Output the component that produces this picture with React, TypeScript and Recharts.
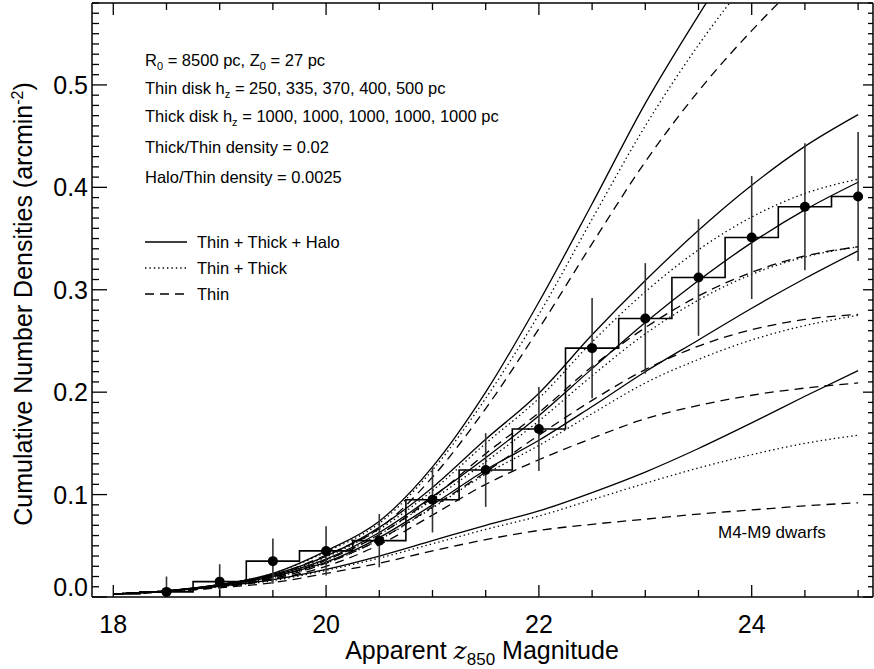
import { ComposedChart, Line, Scatter, ErrorBar, XAxis, YAxis } from "recharts";

const FONT = '"Liberation Sans", Arial, Helvetica, sans-serif';

// model grid (apparent z850 magnitude)
const mags = [18, 18.5, 19, 19.5, 20, 20.5, 21, 21.5, 22, 22.5, 23, 23.5, 24, 24.5, 25];

// thin disk hz = 500 pc
const hz500Full = [0.003, 0.006, 0.012, 0.023, 0.045, 0.074, 0.127, 0.2, 0.288, 0.384, 0.482, 0.568, 0.648, 0.72, 0.79];
const hz500Disks = [0.003, 0.006, 0.012, 0.023, 0.044, 0.072, 0.124, 0.194, 0.276, 0.369, 0.46, 0.539, 0.607, 0.666, 0.716];
const hz500Thin = [0.003, 0.0055, 0.011, 0.021, 0.041, 0.067, 0.117, 0.184, 0.262, 0.345, 0.425, 0.494, 0.553, 0.605, 0.65];

// thin disk hz = 400 pc
const hz400Full = [0.003, 0.006, 0.012, 0.022, 0.04, 0.068, 0.107, 0.154, 0.199, 0.256, 0.309, 0.358, 0.402, 0.44, 0.471];
const hz400Disks = [0.003, 0.006, 0.0115, 0.021, 0.039, 0.066, 0.104, 0.15, 0.194, 0.249, 0.298, 0.339, 0.371, 0.394, 0.408];
const hz400Thin = [0.003, 0.0055, 0.0105, 0.019, 0.036, 0.061, 0.097, 0.14, 0.18, 0.225, 0.263, 0.294, 0.317, 0.333, 0.342];

// thin disk hz = 370 pc
const hz370Full = [0.003, 0.006, 0.012, 0.021, 0.037, 0.063, 0.098, 0.136, 0.177, 0.223, 0.268, 0.309, 0.346, 0.378, 0.405];
const hz370Disks = [0.003, 0.006, 0.0115, 0.02, 0.036, 0.061, 0.095, 0.132, 0.172, 0.216, 0.257, 0.29, 0.315, 0.332, 0.342];
const hz370Thin = [0.003, 0.0055, 0.0105, 0.018, 0.033, 0.056, 0.088, 0.122, 0.158, 0.192, 0.222, 0.245, 0.261, 0.271, 0.276];

// thin disk hz = 335 pc
const hz335Full = [0.003, 0.006, 0.011, 0.02, 0.034, 0.058, 0.09, 0.124, 0.153, 0.186, 0.22, 0.251, 0.282, 0.311, 0.338];
const hz335Disks = [0.003, 0.006, 0.0105, 0.019, 0.033, 0.056, 0.087, 0.12, 0.148, 0.179, 0.209, 0.232, 0.251, 0.265, 0.275];
const hz335Thin = [0.003, 0.0055, 0.0095, 0.017, 0.03, 0.051, 0.08, 0.11, 0.134, 0.155, 0.174, 0.187, 0.197, 0.204, 0.209];

// thin disk hz = 250 pc
const hz250Full = [0.003, 0.0055, 0.0105, 0.017, 0.027, 0.04, 0.055, 0.07, 0.084, 0.102, 0.122, 0.145, 0.17, 0.196, 0.221];
const hz250Disks = [0.003, 0.0055, 0.01, 0.016, 0.026, 0.038, 0.052, 0.066, 0.079, 0.095, 0.111, 0.126, 0.139, 0.15, 0.158];
const hz250Thin = [0.003, 0.005, 0.009, 0.014, 0.023, 0.033, 0.045, 0.056, 0.065, 0.071, 0.076, 0.081, 0.085, 0.089, 0.092];

// observed counts, M4-M9 dwarfs
const obsMags = [18.5, 19, 19.5, 20, 20.5, 21, 21.5, 22, 22.5, 23, 23.5, 24, 24.5, 25];
const obsDensity = [0.005, 0.015, 0.035, 0.045, 0.055, 0.095, 0.124, 0.164, 0.243, 0.272, 0.312, 0.351, 0.381, 0.391];
const obsError = [0.015, 0.017, 0.022, 0.024, 0.026, 0.032, 0.036, 0.041, 0.049, 0.054, 0.057, 0.06, 0.062, 0.063];
const firstBinMag = 18;
const firstBinDensity = 0.003;
const binHalf = 0.25;

// axes
const xDomain = [17.8, 25.14];
const yDomain = [0, 0.58];
const xTicks = [18, 18.5, 19, 19.5, 20, 20.5, 21, 21.5, 22, 22.5, 23, 23.5, 24, 24.5, 25];
const xMajorTicks = [18, 20, 22, 24];
const yTicks = Array.from({ length: 59 }, (_, i) => i / 100);

const legendLabels = ["Thin + Thick + Halo", "Thin + Thick", "Thin"];

const modelKeys = [
  ["hz500Full", hz500Full, "solid"],
  ["hz500Disks", hz500Disks, "dot"],
  ["hz500Thin", hz500Thin, "dash"],
  ["hz400Full", hz400Full, "solid"],
  ["hz400Disks", hz400Disks, "dot"],
  ["hz400Thin", hz400Thin, "dash"],
  ["hz370Full", hz370Full, "solid"],
  ["hz370Disks", hz370Disks, "dot"],
  ["hz370Thin", hz370Thin, "dash"],
  ["hz335Full", hz335Full, "solid"],
  ["hz335Disks", hz335Disks, "dot"],
  ["hz335Thin", hz335Thin, "dash"],
  ["hz250Full", hz250Full, "solid"],
  ["hz250Disks", hz250Disks, "dot"],
  ["hz250Thin", hz250Thin, "dash"],
] as const;

const models = mags.map((m, i) => {
  const row: any = { m };
  modelKeys.forEach(([key, vals]) => (row[key] = vals[i]));
  return row;
});

// error bars stop at the x axis, as in the paper figure
const observed = obsMags.map((m, i) => ({
  m,
  v: obsDensity[i],
  err: [Math.min(obsError[i], obsDensity[i]), obsError[i]],
}));

const binMags = [firstBinMag, ...obsMags];
const binDensity = [firstBinDensity, ...obsDensity];
const histogram = binMags.map((m, i) => ({ m: Math.max(m - binHalf, firstBinMag), v: binDensity[i] }));
histogram.push({ m: obsMags[obsMags.length - 1], v: obsDensity[obsDensity.length - 1] });

const DASH: Record<string, string | undefined> = { solid: undefined, dot: "1.4 3", dash: "9 6" };

// plot frame in page pixels
const PLOT = { left: 92, right: 873, top: 3, bottom: 597 };

const isMajorY = (v: number) => Math.abs(v * 10 - Math.round(v * 10)) < 1e-6;

const BottomTick = ({ x, payload }: any) => {
  const major = xMajorTicks.includes(payload.value);
  return (
    <g>
      <line x1={x} x2={x} y1={PLOT.bottom} y2={PLOT.bottom - (major ? 12 : 7)} stroke="#000" strokeWidth={1.3} />
      {major && (
        <text x={x} y={633} textAnchor="middle" fontSize={25} fontFamily={FONT} fill="#000">
          {payload.value}
        </text>
      )}
    </g>
  );
};

const TopTick = ({ x, payload }: any) => {
  const major = xMajorTicks.includes(payload.value);
  return <line x1={x} x2={x} y1={PLOT.top} y2={PLOT.top + (major ? 12 : 7)} stroke="#000" strokeWidth={1.3} />;
};

const LeftTick = ({ y, payload }: any) => {
  const v = payload.value;
  const major = isMajorY(v);
  return (
    <g>
      <line x1={PLOT.left} x2={PLOT.left + (major ? 15 : 7)} y1={y} y2={y} stroke="#000" strokeWidth={1.3} />
      {major && (
        <text
          x={88}
          y={y + (v === 0 ? -10 : 0)}
          textAnchor="end"
          dominantBaseline="central"
          fontSize={25}
          fontFamily={FONT}
          fill="#000"
        >
          {v.toFixed(1)}
        </text>
      )}
    </g>
  );
};

const RightTick = ({ y, payload }: any) => {
  const major = isMajorY(payload.value);
  return <line x1={PLOT.right} x2={PLOT.right - (major ? 10 : 5)} y1={y} y2={y} stroke="#000" strokeWidth={1.3} />;
};

const Notes = () => (
  <g fontFamily={FONT} fill="#000">
    <g fontSize={16.5}>
      <text x={145} y={66}>
        R<tspan dy={4} fontSize={11}>0</tspan>
        <tspan dy={-4}> = 8500 pc, Z</tspan>
        <tspan dy={4} fontSize={11}>0</tspan>
        <tspan dy={-4}> = 27 pc</tspan>
      </text>
      <text x={145} y={94}>
        Thin disk h<tspan dy={4} fontSize={11}>z</tspan>
        <tspan dy={-4}> = 250, 335, 370, 400, 500 pc</tspan>
      </text>
      <text x={145} y={122}>
        Thick disk h<tspan dy={4} fontSize={11}>z</tspan>
        <tspan dy={-4}> = 1000, 1000, 1000, 1000, 1000 pc</tspan>
      </text>
      <text x={145} y={153}>Thick/Thin density = 0.02</text>
      <text x={145} y={183}>Halo/Thin density = 0.0025</text>
      {legendLabels.map((label, i) => {
        const y = [242, 268, 294][i];
        const dash = DASH[["solid", "dot", "dash"][i]];
        return (
          <g key={label}>
            <line x1={145} x2={187} y1={y} y2={y} stroke="#000" strokeWidth={1.3} strokeDasharray={dash} />
            <text x={197} y={y + 6}>{label}</text>
          </g>
        );
      })}
      <text x={718} y={538} fontSize={17}>M4-M9 dwarfs</text>
    </g>
    <text x={482} y={659} textAnchor="middle" fontSize={25}>
      Apparent <tspan fontFamily="'DejaVu Serif', 'Liberation Serif', serif" fontStyle="italic">z</tspan>
      <tspan dy={6} fontSize={17}>850</tspan>
      <tspan dy={-6}> Magnitude</tspan>
    </text>
    <text x={32} y={304} textAnchor="middle" fontSize={25} transform="rotate(-90 32 304)">
      Cumulative Number Densities (arcmin<tspan dy={-9} fontSize={16}>-2</tspan>
      <tspan dy={9}>)</tspan>
    </text>
  </g>
);

export default function App() {
  return (
    <div style={{ position: "absolute", left: 0, top: 0, background: "#fff" }}>
      <ComposedChart width={874} height={669} margin={{ top: 2, right: 0, bottom: 0, left: 0 }}>
        <XAxis
          xAxisId="b"
          dataKey="m"
          type="number"
          orientation="bottom"
          domain={xDomain}
          allowDataOverflow
          ticks={xTicks}
          interval={0}
          height={72}
          tickLine={false}
          tickSize={0}
          tick={<BottomTick />}
          axisLine={{ stroke: "#000", strokeWidth: 1.5 }}
        />
        <XAxis
          xAxisId="t"
          dataKey="m"
          type="number"
          orientation="top"
          domain={xDomain}
          allowDataOverflow
          ticks={xTicks}
          interval={0}
          height={1}
          tickLine={false}
          tickSize={0}
          tick={<TopTick />}
          axisLine={{ stroke: "#000", strokeWidth: 1.5 }}
        />
        <YAxis
          yAxisId="l"
          type="number"
          orientation="left"
          domain={yDomain}
          allowDataOverflow
          ticks={yTicks}
          interval={0}
          width={92}
          tickLine={false}
          tickSize={0}
          tick={<LeftTick />}
          axisLine={{ stroke: "#000", strokeWidth: 1.5 }}
        />
        <YAxis
          yAxisId="r"
          type="number"
          orientation="right"
          domain={yDomain}
          allowDataOverflow
          ticks={yTicks}
          interval={0}
          width={1}
          tickLine={false}
          tickSize={0}
          tick={<RightTick />}
          axisLine={{ stroke: "#000", strokeWidth: 1.5 }}
        />
        {modelKeys.map(([key, , style]) => (
          <Line
            key={key}
            xAxisId="b"
            yAxisId="l"
            data={models}
            dataKey={key}
            type="monotone"
            stroke="#000"
            strokeWidth={1.3}
            strokeDasharray={DASH[style]}
            dot={false}
            activeDot={false}
            isAnimationActive={false}
          />
        ))}
        <Line
          xAxisId="b"
          yAxisId="l"
          data={histogram}
          dataKey="v"
          type="stepAfter"
          stroke="#000"
          strokeWidth={1.6}
          dot={false}
          activeDot={false}
          isAnimationActive={false}
        />
        <Scatter
          xAxisId="b"
          yAxisId="l"
          data={observed}
          dataKey="v"
          isAnimationActive={false}
          shape={(p: any) => <circle cx={p.cx} cy={p.cy} r={5} fill="#000" />}
        >
          <ErrorBar dataKey="err" direction="y" width={0} stroke="#333" strokeWidth={1.6} isAnimationActive={false} />
        </Scatter>
        <Notes />
      </ComposedChart>
    </div>
  );
}
